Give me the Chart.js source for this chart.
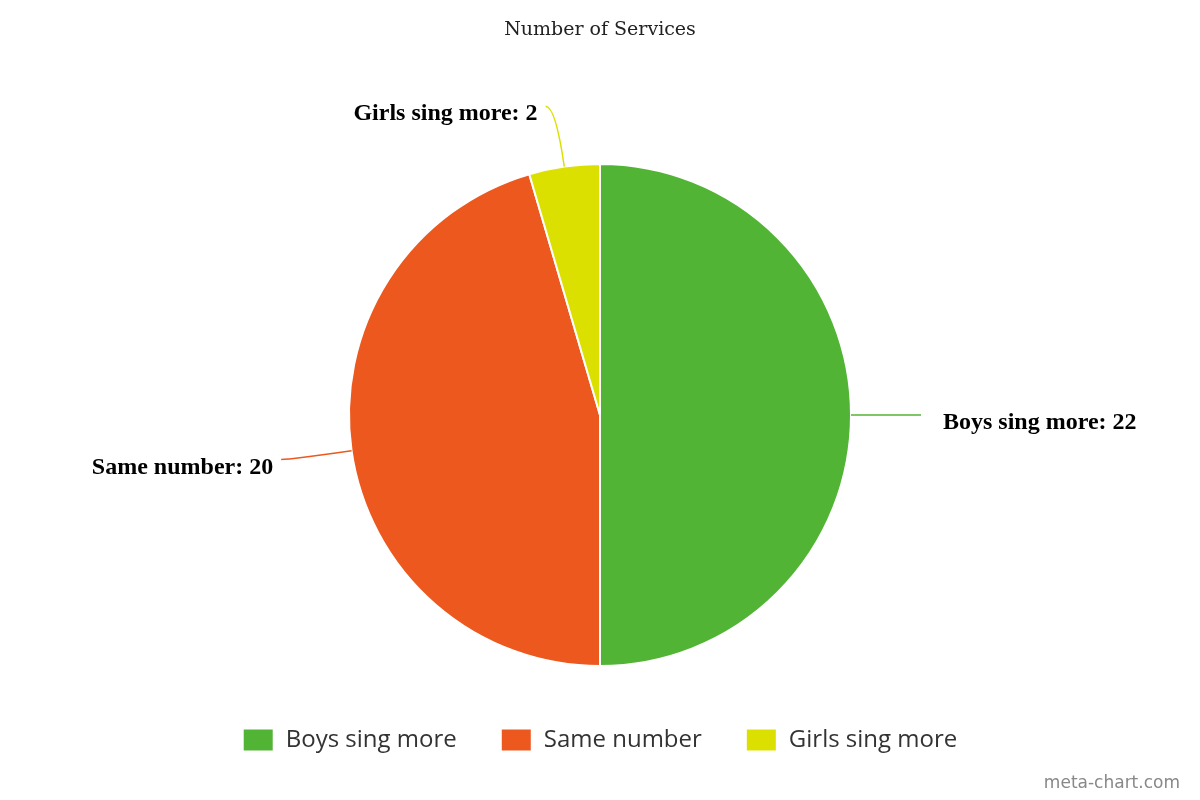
<!DOCTYPE html>
<html>
<head>
<meta charset="utf-8">
<script src="https://cdn.jsdelivr.net/npm/chart.js@4/dist/chart.umd.min.js"></script>
<style>
  html, body { margin: 0; padding: 0; background: #fff; }
  #wrap { width: 1200px; height: 800px; }
</style>
</head>
<body>
<div id="wrap"><canvas id="pieChart" width="1200" height="800"></canvas></div>
<script>
// chart data
const categories = ['Boys sing more', 'Same number', 'Girls sing more'];
const values = [22, 20, 2];
const colors = ['#52b435', '#ec581e', '#dce000'];
const chartTitle = 'Number of Services';

// leader lines + "name: value" labels next to each slice
const sliceLabels = {
  id: 'sliceLabels',
  afterDatasetsDraw(chart) {
    const ctx = chart.ctx;
    const meta = chart.getDatasetMeta(0);
    ctx.save();
    ctx.font = 'bold 24px "Liberation Serif", serif';
    ctx.textBaseline = 'middle';
    meta.data.forEach((arc, i) => {
      const p = arc.getProps(['x', 'y', 'startAngle', 'endAngle', 'outerRadius'], true);
      const mid = (p.startAngle + p.endAngle) / 2;
      const cos = Math.cos(mid), sin = Math.sin(mid);
      const right = cos >= 0;
      const sx = p.x + p.outerRadius * cos, sy = p.y + p.outerRadius * sin;
      const cx = p.x + (p.outerRadius + 61) * cos, cy = p.y + (p.outerRadius + 61) * sin;
      const ex = cx + (right ? 9 : -10), ey = cy;
      ctx.strokeStyle = colors[i];
      ctx.lineWidth = 1.5;
      ctx.beginPath();
      ctx.moveTo(sx, sy);
      ctx.quadraticCurveTo(cx, cy, ex, ey);
      ctx.stroke();
      ctx.fillStyle = '#000';
      ctx.textAlign = right ? 'left' : 'right';
      ctx.fillText(categories[i] + ': ' + values[i], ex + (right ? 22 : -8), ey + 8);
    });
    ctx.restore();
  }
};

const watermark = {
  id: 'watermark',
  afterDraw(chart) {
    const ctx = chart.ctx;
    ctx.save();
    ctx.font = '17px "DejaVu Sans", sans-serif';
    ctx.fillStyle = '#888';
    ctx.textAlign = 'right';
    ctx.textBaseline = 'middle';
    ctx.fillText('meta-chart.com', 1180, 784);
    ctx.restore();
  }
};

document.addEventListener('DOMContentLoaded', () => {
  const ctx = document.getElementById('pieChart');
  new Chart(ctx, {
    type: 'pie',
    data: {
      labels: categories,
      datasets: [{
        data: values,
        backgroundColor: colors,
        borderColor: '#fff',
        borderWidth: 2,
        radius: 251
      }]
    },
    options: {
      responsive: false,
      animation: false,
      layout: { padding: { top: 0, bottom: 38, left: 0, right: 0 } },
      plugins: {
        title: {
          display: true,
          text: chartTitle,
          color: '#222',
          font: { family: '"DejaVu Serif", serif', size: 19, weight: 'normal' },
          padding: { top: 18.6, bottom: 104.6 }
        },
        legend: {
          position: 'bottom',
          labels: {
            boxWidth: 31,
            boxHeight: 23,
            padding: 44,
            color: '#333',
            font: { family: '"Open Sans", sans-serif', size: 24 }
          }
        },
        tooltip: { enabled: false }
      }
    },
    plugins: [sliceLabels, watermark]
  });
});
</script>
</body>
</html>
